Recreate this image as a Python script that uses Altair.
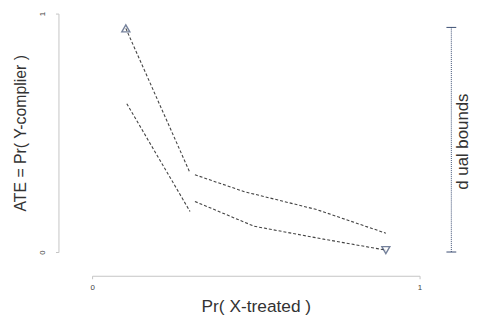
import altair as alt
import pandas as pd

# Dashed bound segments (x = Pr(X-treated), y = ATE)
seg_ids = ["UL", "UL", "UR", "UR", "UR", "UR", "LL", "LL", "LR", "LR", "LR", "LR"]
seg_x = [0.103, 0.299, 0.314, 0.465, 0.686, 0.897, 0.106, 0.299, 0.314, 0.495, 0.707, 0.897]
seg_y = [0.938, 0.332, 0.324, 0.253, 0.178, 0.079, 0.622, 0.170, 0.212, 0.108, 0.054, 0.008]

# Extreme points (triangles)
pt_x = [0.103, 0.897]
pt_y = [0.938, 0.008]
pt_shape = ["triangle-up", "triangle-down"]

# Dual bounds bracket
db_x = 1.097
db_lo = 0.0
db_hi = 0.942
db_label = "d ual bounds"

lines_df = pd.DataFrame({"seg": seg_ids, "x": seg_x, "y": seg_y, "o": list(range(len(seg_x)))})
pts_df = pd.DataFrame({"x": pt_x, "y": pt_y, "shape": pt_shape})
bracket_df = pd.DataFrame({"x": [db_x], "y": [db_lo], "y2": [db_hi]})
caps_df = pd.DataFrame({"x": [db_x - 0.015] * 2, "x2": [db_x + 0.015] * 2, "y": [db_lo, db_hi]})
text_df = pd.DataFrame({"x": [1.134], "y": [0.463], "t": [db_label]})

FONT = "Liberation Sans"
xscale = alt.Scale(domain=[0, 1], nice=False, zero=False)
yscale = alt.Scale(domain=[0, 1], nice=False, zero=False)

xenc = alt.X("x:Q", scale=xscale, axis=alt.Axis(
    title="Pr( X-treated )", values=[0, 1], format="d", offset=24, tickSize=3, labelPadding=5,
    labelFlush=False, grid=False, domainColor="#c4c4c4", tickColor="#c4c4c4",
    labelFontSize=8, labelColor="#444", titleFontSize=17.5, titleFontWeight="normal",
    titleColor="#333", titlePadding=6, labelFont=FONT, titleFont=FONT))
yenc = alt.Y("y:Q", scale=yscale, axis=alt.Axis(
    title="ATE = Pr( Y-complier )", values=[0, 1], format="d", offset=34, tickSize=3, labelPadding=9,
    labelAngle=-90, labelAlign="center", labelBaseline="bottom",
    labelFlush=False, grid=False, domainColor="#c4c4c4", tickColor="#c4c4c4",
    labelFontSize=8, labelColor="#444", titleFontSize=16, titleFontWeight="normal",
    titleColor="#333", titlePadding=10, labelFont=FONT, titleFont=FONT))

lines = alt.Chart(lines_df).mark_line(
    color="#444", strokeWidth=1.1, strokeDash=[3, 2]
).encode(x=xenc, y=yenc, detail="seg:N", order="o:Q")

pts = alt.Chart(pts_df).mark_point(
    filled=False, color="#3b4d72", size=65, strokeWidth=1.4
).encode(x="x:Q", y="y:Q", shape=alt.Shape("shape:N", scale=None))

bracket = alt.Chart(bracket_df).mark_rule(
    color="#3b4d72", strokeWidth=1, strokeDash=[1, 1]
).encode(x="x:Q", y="y:Q", y2="y2:Q")

caps = alt.Chart(caps_df).mark_rule(color="#3b4d72", strokeWidth=1).encode(
    x="x:Q", x2="x2:Q", y="y:Q")

label = alt.Chart(text_df).mark_text(
    angle=270, fontSize=17, font=FONT, color="#333", align="center", baseline="middle"
).encode(x="x:Q", y="y:Q", text="t:N")

chart = alt.layer(lines, pts, bracket, caps, label).properties(
    width=331, height=241,
    autosize=alt.AutoSizeParams(type="none"),
    padding={"left": 85, "top": 4, "right": 54, "bottom": 62},
    background="white",
).configure_view(stroke=None)

chart.save("out.html", embed_options={"renderer": "svg", "actions": False})
